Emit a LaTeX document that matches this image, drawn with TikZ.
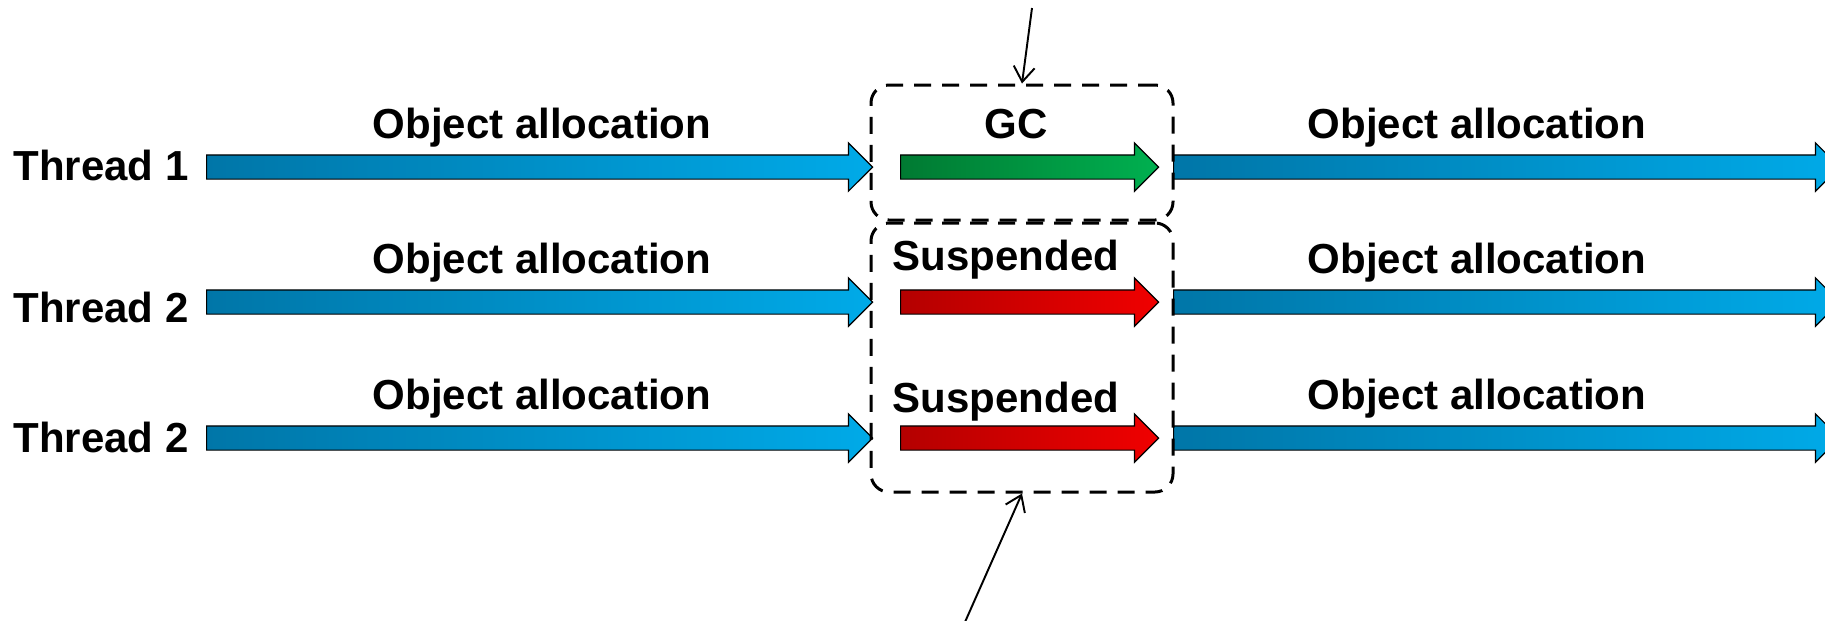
\documentclass[tikz,border=0pt]{standalone}
\usepackage{fontspec}
\setmainfont{Liberation Sans}
\usetikzlibrary{positioning}
\usetikzlibrary{shapes.arrows}
\usetikzlibrary{arrows.meta}

\definecolor{allocdark}{RGB}{0,118,168}
\definecolor{alloclight}{RGB}{0,170,232}
\definecolor{gcdark}{RGB}{0,122,50}
\definecolor{gclight}{RGB}{0,176,80}
\definecolor{suspdark}{RGB}{180,0,0}
\definecolor{susplight}{RGB}{240,0,0}

\tikzset{
  blk/.style={single arrow, draw=black, line width=.7pt, inner sep=.23cm,
    single arrow head extend=.24cm, minimum width=.94cm, anchor=tail},
  alloc/.style={blk, minimum height=13.32cm, left color=allocdark, right color=alloclight},
  gcrun/.style={blk, minimum height=5.16cm, left color=gcdark, right color=gclight},
  susp/.style={blk, minimum height=5.16cm, left color=suspdark, right color=susplight},
  lbl/.style={font=\fontsize{23.9}{28}\selectfont\bfseries, inner sep=0pt, anchor=base},
  pause/.style={draw, dash pattern=on .34cm off .22cm, line width=1.7pt, rounded corners=.36cm,
    minimum width=6.04cm, inner sep=0pt},
}

\begin{document}
\begin{tikzpicture}
\useasboundingbox (0,0) rectangle (36.5,-12.4);

% threads
\node(la1)[alloc] at (4.12,-3.34) {};
\node(la2)[alloc] at (4.12,-6.04) {};
\node(la3)[alloc] at (4.12,-8.76) {};
\node(gc)[gcrun] at (18,-3.34) {};
\node(s2)[susp] at (18,-6.04) {};
\node(s3)[susp] at (18,-8.76) {};
\node(ra1)[alloc] at (23.46,-3.34) {};
\node(ra2)[alloc] at (23.46,-6.04) {};
\node(ra3)[alloc] at (23.46,-8.76) {};

\node(t1)[lbl, anchor=base west] at (0.26,-3.60) {Thread 1};
\node(t2)[lbl, anchor=base west] at (0.26,-6.44) {Thread 2};
\node(t3)[lbl, anchor=base west] at (0.26,-9.04) {Thread 2};

\node(oa1)[lbl] at (10.84,-2.76) {Object allocation};
\node(oa2)[lbl] at (10.84,-5.46) {Object allocation};
\node(oa3)[lbl] at (10.84,-8.18) {Object allocation};
\node(ob1)[lbl] at (29.54,-2.76) {Object allocation};
\node(ob2)[lbl] at (29.54,-5.46) {Object allocation};
\node(ob3)[lbl] at (29.54,-8.18) {Object allocation};

\node(gct)[lbl] at (20.32,-2.76) {GC};
\node(st2)[lbl] at (20.12,-5.40) {Suspended};
\node(st3)[lbl] at (20.12,-8.24) {Suspended};

% stop-the-world boxes
\node(gcbox)[pause, minimum height=2.70cm] at (20.44,-3.05) {};
\node(spbox)[pause, minimum height=5.38cm] at (20.44,-7.15) {};

\coordinate(ctop) at (20.64,-0.16);
\coordinate(cbot) at (19.30,-12.44);
\draw[-{Straight Barb[length=.3cm,width=.42cm]}, line width=1.1pt] (ctop)--(gcbox.north);
\draw[-{Straight Barb[length=.3cm,width=.42cm]}, line width=1.1pt] (cbot)--(spbox.south);
\end{tikzpicture}
\end{document}
